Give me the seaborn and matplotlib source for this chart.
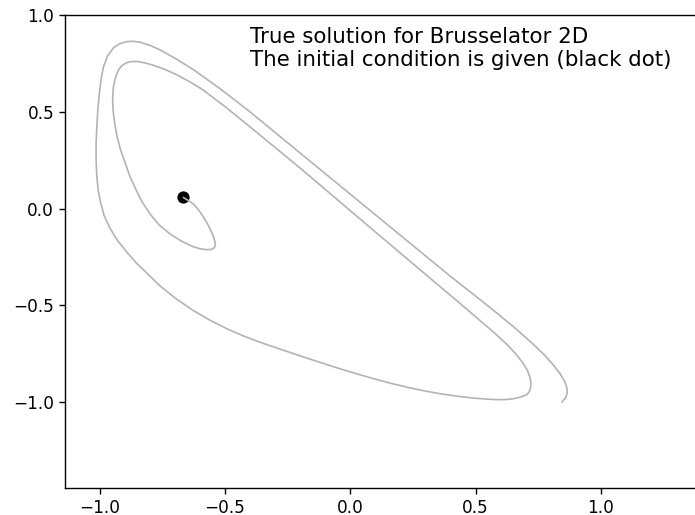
import matplotlib
matplotlib.use("Agg")
import matplotlib.pyplot as plt
import seaborn as sns
import pandas as pd

# Trajectory (in drawing order, starting at the initial condition)
x_vals = [-0.6664, -0.6476, -0.6265, -0.6057, -0.5866, -0.5698, -0.5559, -0.5459, -0.5399, -0.5387,
          -0.5439, -0.5559, -0.5718, -0.5998, -0.6277, -0.6756, -0.7195, -0.7634, -0.7993, -0.8312,
          -0.8552, -0.8791, -0.8990, -0.9170, -0.9310, -0.9409, -0.9473, -0.9489, -0.9457, -0.9378,
          -0.9258, -0.9110, -0.8923, -0.8711, -0.8472, -0.8192, -0.7873, -0.7394, -0.6915, -0.6397,
          -0.5878, -0.4960, -0.4002, -0.3005, -0.2007,
          -0.1010, -0.0012, 0.0986, 0.1983, 0.2981, 0.3978, 0.4617, 0.5176, 0.5734, 0.6253,
          0.6612, 0.6891, 0.7071, 0.7171, 0.7211, 0.7199,
          0.7151, 0.7051, 0.6812, 0.6492, 0.6173, 0.5854, 0.5375, 0.4896, 0.4258, 0.3579,
          0.2941, 0.2263, 0.1584, 0.0906, 0.0267, -0.0411, -0.1369, -0.2287, -0.2965, -0.3603,
          -0.4282, -0.4920, -0.5599, -0.6277, -0.6955, -0.7594, -0.8093, -0.8552, -0.8931, -0.9310,
          -0.9589, -0.9829,
          -0.9968, -1.0068, -1.0124, -1.0148, -1.0148, -1.0120, -1.0080, -1.0016, -0.9948, -0.9856,
          -0.9689, -0.9457, -0.9210, -0.8923, -0.8651, -0.8392, -0.7993,
          -0.7594, -0.6955, -0.6277, -0.5160, -0.4002, -0.3005, -0.2007, -0.1010, -0.0012, 0.0986,
          0.1983, 0.2981, 0.3978, 0.4896, 0.5774, 0.6572, 0.7291, 0.7730, 0.8089, 0.8368,
          0.8568, 0.8647, 0.8659, 0.8588, 0.8448]
y_vals = [0.0579, 0.0424, 0.0243, -0.0067, -0.0429, -0.0790, -0.1152, -0.1462, -0.1720, -0.1901,
          -0.2030, -0.2107, -0.2123, -0.2071, -0.1963, -0.1668, -0.1307, -0.0842, -0.0274, 0.0346,
          0.0966, 0.1637, 0.2361, 0.3032, 0.3704, 0.4427, 0.5098, 0.5718, 0.6286, 0.6751,
          0.7164, 0.7397, 0.7541, 0.7603, 0.7593, 0.7526, 0.7407, 0.7190, 0.6906, 0.6544,
          0.6131, 0.5227, 0.4220, 0.3161, 0.2102,
          0.1002, -0.0093, -0.1188, -0.2278, -0.3368, -0.4458, -0.5155, -0.5775, -0.6395, -0.7015,
          -0.7505, -0.7970, -0.8357, -0.8719, -0.9003, -0.9210,
          -0.9442, -0.9597, -0.9726, -0.9819, -0.9861, -0.9861, -0.9830, -0.9778, -0.9685, -0.9556,
          -0.9406, -0.9220, -0.9008, -0.8771, -0.8533, -0.8270, -0.7872, -0.7479, -0.7180, -0.6901,
          -0.6565, -0.6204, -0.5765, -0.5253, -0.4654, -0.3993, -0.3363, -0.2794, -0.2226, -0.1617,
          -0.1023, -0.0351,
          0.0320, 0.0966, 0.1741, 0.2516, 0.3368, 0.4220, 0.5098, 0.5976, 0.6699, 0.7319,
          0.7887, 0.8301, 0.8518, 0.8626, 0.8642, 0.8595, 0.8430,
          0.8197, 0.7732, 0.7190, 0.6157, 0.4995, 0.3936, 0.2877, 0.1818, 0.0759, -0.0300,
          -0.1358, -0.2417, -0.3476, -0.4406, -0.5310, -0.6162, -0.6989, -0.7531, -0.8048, -0.8512,
          -0.8952, -0.9262, -0.9520, -0.9778, -0.9985]
x0 = [-0.666]
y0 = [0.058]
title_text = "True solution for Brusselator 2D\nThe initial condition is given (black dot)"

sns.set_theme(style="ticks")
plt.rcParams['font.family'] = ['DejaVu Sans']
plt.rcParams['axes.linewidth'] = 1.0

traj = pd.DataFrame({"x": x_vals, "y": y_vals})
start = pd.DataFrame({"x": x0, "y": y0})

fig = plt.figure(figsize=(6.95, 5.15), dpi=100)
ax = fig.add_axes([65 / 695, (515 - 487.7) / 515, 1 - 65 / 695, (487.7 - 15) / 515])

sns.scatterplot(data=start, x="x", y="y", ax=ax, color="black", s=78,
                edgecolor="black", linewidth=0, zorder=1)
sns.lineplot(data=traj, x="x", y="y", ax=ax, sort=False, estimator=None,
             color="#b3b3b3", linewidth=1.2, zorder=2)

ax.text(-0.4, 0.737, title_text, fontsize=15.4, color="black")

ax.set_xlim(-1.139, 1.376)
ax.set_ylim(-1.441, 1.0)
ax.set_xticks([-1.0, -0.5, 0.0, 0.5, 1.0])
ax.set_yticks([-1.0, -0.5, 0.0, 0.5, 1.0])
ax.set_xlabel("")
ax.set_ylabel("")
ax.spines['right'].set_visible(False)
for s in ['left', 'bottom', 'top']:
    ax.spines[s].set_color("black")
ax.tick_params(axis="both", labelsize=12.2, length=4.2, width=1.0, pad=3.6,
               colors="black", direction="out")
ax.grid(False)

fig.savefig("out.png", dpi=100)
